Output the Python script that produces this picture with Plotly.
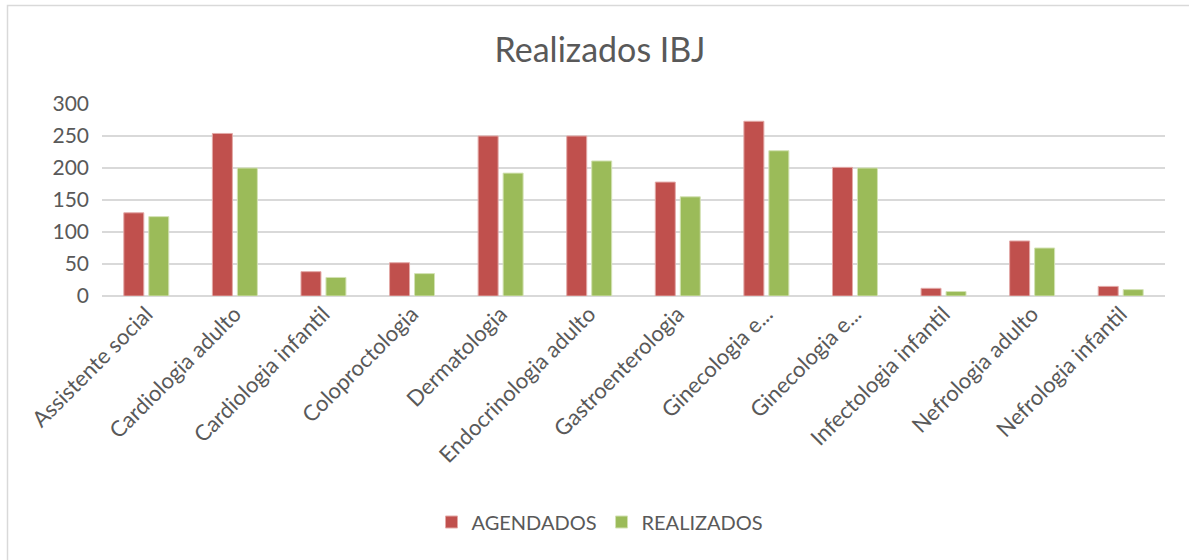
import plotly.graph_objects as go

categories = ["Assistente social", "Cardiologia adulto", "Cardiologia infantil",
              "Coloproctologia", "Dermatologia", "Endocrinologia adulto",
              "Gastroenterologia", "Ginecologia e...", "Ginecologia e...",
              "Infectologia infantil", "Nefrologia adulto", "Nefrologia infantil"]
agendados = [130, 254, 38, 52, 250, 250, 178, 273, 201, 12, 86, 15]
realizados = [124, 200, 29, 35, 192, 211, 155, 227, 200, 7, 75, 10]
y_ticks = [0, 50, 100, 150, 200, 250, 300]

xpos = list(range(len(categories)))
FONT = "Lato"
GRAY = "#595959"

fig = go.Figure()
fig.add_trace(go.Bar(x=xpos, y=agendados, name="AGENDADOS",
                     marker=dict(color="#C0504D", line=dict(color="#E3A9A7", width=1))))
fig.add_trace(go.Bar(x=xpos, y=realizados, name="REALIZADOS",
                     marker=dict(color="#9BBB59", line=dict(color="#D3E2B4", width=1))))

W, H = 1189, 560
L, R, T, B = 102, 24, 104, 264
pw, ph = W - L - R, H - T - B


def px_x(p):
    return (p - L) / pw


def px_y(p):
    return (H - B - p) / ph


fig.update_layout(
    width=W, height=H,
    margin=dict(l=L, r=R, t=T, b=B, autoexpand=False),
    paper_bgcolor="white", plot_bgcolor="white",
    font=dict(family=FONT, color=GRAY, size=20),
    title=dict(text="Realizados IBJ", x=600 / W, xanchor="center",
               y=1 - 50 / H, yanchor="middle", yref="container",
               font=dict(size=34, color=GRAY, family=FONT)),
    barmode="group", bargap=0.436, bargroupgap=0.2,
    showlegend=True,
    legend=dict(orientation="h", x=px_x(600), xanchor="center",
                y=px_y(522), yanchor="middle",
                font=dict(size=20, color=GRAY, family=FONT),
                itemwidth=30, traceorder="normal"),
    xaxis=dict(tickmode="array", tickvals=xpos, ticktext=categories,
               tickangle=-45, range=[-0.5, len(categories) - 0.5],
               showgrid=False, zeroline=False, showline=False, ticks="",
               tickfont=dict(size=22, color=GRAY, family=FONT)),
    yaxis=dict(range=[0, 300], tickmode="array", tickvals=y_ticks,
               showgrid=True, gridcolor="#D9D9D9", gridwidth=1.5,
               zeroline=True, zerolinecolor="#D9D9D9", zerolinewidth=1.5,
               showline=False, ticks="", ticklabelstandoff=12,
               tickfont=dict(size=21, color=GRAY, family=FONT)),
    shapes=[dict(type="rect", xref="paper", yref="paper",
                 x0=px_x(7.5), x1=px_x(W + 20), y0=px_y(H + 20), y1=px_y(5.5),
                 line=dict(color="#D9D9D9", width=1.5), fillcolor="rgba(0,0,0,0)",
                 layer="below")],
)

fig.write_html("out.html",
               config={"displayModeBar": False},
               post_script="document.body.style.margin='0';document.body.style.overflow='hidden';")
